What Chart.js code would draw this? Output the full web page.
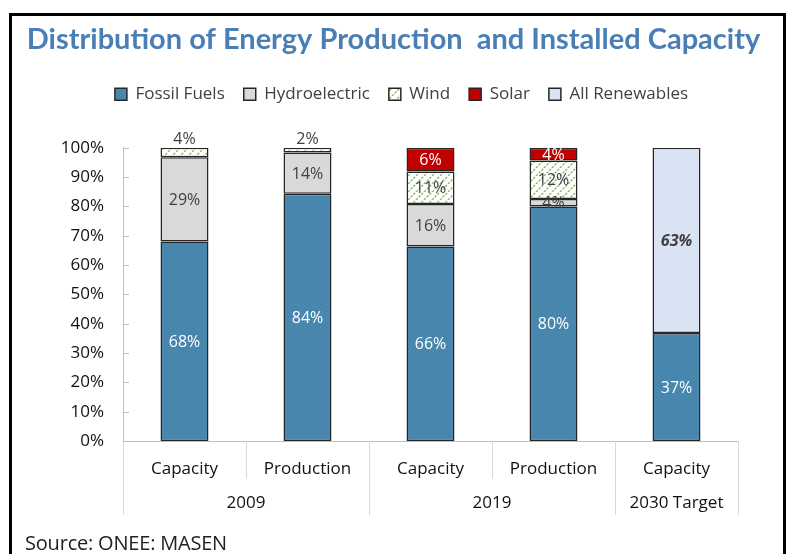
<!DOCTYPE html>
<html><head><meta charset="utf-8">
<script src="https://cdn.jsdelivr.net/npm/chart.js@4/dist/chart.umd.min.js"></script>
<style>
html,body{margin:0;padding:0;background:#fff;width:787px;height:554px;overflow:hidden;}
#frame{position:absolute;left:9px;top:13px;width:771px;height:600px;border:3px solid #000;border-bottom:none;}
#wrap{position:absolute;left:0;top:0;width:787px;height:554px;}
#source{position:absolute;left:25px;top:529px;font-family:'Open Sans';font-size:20px;color:#222;white-space:nowrap;letter-spacing:-0.2px;}
</style></head><body>
<div id="frame"></div>
<div id="wrap"><canvas id="c" width="787" height="554"></canvas></div>
<div id="source">Source: ONEE: MASEN</div>
<script>
const categories = ['Capacity','Production','Capacity','Production','Capacity'];
const groupLabels = ['2009','2019','2030 Target'];
const groupSizes = [2,2,1];
const yTickValues = [0,10,20,30,40,50,60,70,80,90,100];

const fossilFuels   = [68.0, 84.3, 66.3, 80.0, 36.8];
const hydroelectric = [28.8, 14.1, 14.5, 2.5, null];
const wind          = [3.2, 1.6, 11.1, 13.2, null];
const solar         = [null, null, 8.1, 4.3, null];
const allRenewables = [null, null, null, null, 63.2];

const fossilLabels     = ['68%','84%','66%','80%','37%'];
const hydroLabels      = ['29%','14%','16%','4%',null];
const windLabels       = ['4%','2%','11%','12%',null];
const solarLabels      = [null,null,'6%','4%',null];
const renewablesLabels = [null,null,null,null,'63%'];

function hatch(bg, line, size, lw, dash, dir){
  const c=document.createElement('canvas'); c.width=c.height=size;
  const x=c.getContext('2d');
  x.fillStyle=bg; x.fillRect(0,0,size,size);
  x.strokeStyle=line; x.lineWidth=lw;
  if(dash) x.setLineDash(dash);
  for(let o=-size;o<=size;o+=size){
    x.beginPath();
    if(dir==='/'){ x.moveTo(o,size); x.lineTo(o+size,0); }
    else { x.moveTo(o,0); x.lineTo(o+size,size); }
    x.stroke();
  }
  return x.createPattern(c,'repeat');
}
const ctx=document.getElementById('c').getContext('2d');
const fossilFill = hatch('#4A88AF','#4281A8',4,1,null,'\\');
const windFill = hatch('#FFFFFF','#8FBF6E',8,1.5,[2.4,1.4],'/');

const BORDER='#262626';
const FONT='Open Sans';
const groupPlugin={
  id:'groups',
  afterLayout(chart){
    if(chart.legend){ chart.legend.left+=8; chart.legend.right+=8; }
  },
  afterDraw(chart){
    const xs=chart.scales.x, ys=chart.scales.y, c=chart.ctx;
    const n=categories.length;
    const step=xs.getPixelForValue(1)-xs.getPixelForValue(0);
    const bound=k=>xs.getPixelForValue(k)-step/2;
    const edges=[0]; let k=0; groupSizes.forEach(s=>{k+=s;edges.push(k);});
    c.save();
    c.strokeStyle='#D9D9D9'; c.lineWidth=1;
    for(let b=0;b<=n;b++){
      const x=Math.round(bound(b))+0.5;
      const full=edges.includes(b);
      c.beginPath(); c.moveTo(x,xs.top); c.lineTo(x,xs.top+(full?74:38)); c.stroke();
    }
    c.font='17px "'+FONT+'"'; c.fillStyle='#111'; c.textAlign='center'; c.textBaseline='middle';
    groupLabels.forEach((g,i)=>{
      const cx=(bound(edges[i])+bound(edges[i+1]))/2;
      c.fillText(g,cx,xs.top+62);
    });
    c.strokeStyle='#BFBFBF';
    yTickValues.forEach(v=>{
      const y=Math.round(ys.getPixelForValue(v))+0.5;
      c.beginPath(); c.moveTo(ys.right,y); c.lineTo(ys.right+6,y); c.stroke();
    });
    c.restore();
  }
};
const labelPlugin={
  id:'barLabels',
  afterDatasetsDraw(chart){
    const c=chart.ctx;
    c.save();
    chart.data.datasets.forEach((ds,i)=>{
      const meta=chart.getDatasetMeta(i);
      meta.data.forEach((bar,j)=>{
        const txt=ds.valueLabels[j]; if(!txt||ds.data[j]==null) return;
        const top=Math.min(bar.y,bar.base), h=Math.abs(bar.base-bar.y);
        let y=(bar.y+bar.base)/2, color=ds.labelColor;
        const isTop=chart.data.datasets.slice(i+1).every(d=>d.data[j]==null);
        if(h<11&&isTop){ y=top-9; color='#404040'; }
        c.font=ds.labelFont; c.fillStyle=color; c.textAlign='center'; c.textBaseline='middle';
        c.fillText(txt,bar.x,y+1);
      });
    });
    c.restore();
  }
};
const base={borderColor:BORDER,borderWidth:1.5,borderSkipped:false,barPercentage:0.39,categoryPercentage:1};
new Chart(ctx,{
  type:'bar',
  data:{
    labels:categories,
    datasets:[
      {...base,label:'Fossil Fuels',data:fossilFuels,backgroundColor:fossilFill,valueLabels:fossilLabels,labelColor:'#FFFFFF',labelFont:'16px "'+FONT+'"'},
      {...base,label:'Hydroelectric',data:hydroelectric,backgroundColor:'#D9D9D9',valueLabels:hydroLabels,labelColor:'#404040',labelFont:'16px "'+FONT+'"'},
      {...base,label:'Wind',data:wind,backgroundColor:windFill,valueLabels:windLabels,labelColor:'#404040',labelFont:'16px "'+FONT+'"'},
      {...base,label:'Solar',data:solar,backgroundColor:'#C00000',valueLabels:solarLabels,labelColor:'#FFFFFF',labelFont:'16px "'+FONT+'"'},
      {...base,label:'All Renewables',data:allRenewables,backgroundColor:'#DAE3F3',valueLabels:renewablesLabels,labelColor:'#404040',labelFont:'italic bold 16px "'+FONT+'"'}
    ]
  },
  options:{
    responsive:false,animation:false,
    layout:{padding:{left:0,right:0,top:0,bottom:38}},
    plugins:{
      title:{display:true,text:'Distribution of Energy Production  and Installed Capacity',color:'#4A7EB6',
        font:{family:'Lato',size:29,weight:'bold'},padding:{top:22,bottom:10}},
      legend:{display:true,position:'top',
        labels:{boxWidth:12,boxHeight:12,padding:19,color:'#404040',font:{family:FONT,size:17}}},
      tooltip:{enabled:false}
    },
    scales:{
      x:{stacked:true,grid:{display:false},border:{color:'#BFBFBF'},
        ticks:{padding:10,color:'#111',font:{family:FONT,size:17}},
        afterFit:s=>{s.height=75;}},
      xTop:{position:'top',display:true,grid:{display:false},border:{display:false},ticks:{display:false},
        afterFit:s=>{s.height=35;}},
      y:{stacked:true,min:0,max:100,afterBuildTicks:s=>{s.ticks=yTickValues.map(v=>({value:v}));},
        grid:{display:false},border:{color:'#BFBFBF'},
        ticks:{padding:11,color:'#111',font:{family:FONT,size:17},callback:v=>v+'%'},
        afterFit:s=>{s.width=123;}},
      yR:{position:'right',display:true,grid:{display:false},border:{display:false},ticks:{display:false},
        afterFit:s=>{s.width=49;}}
    }
  },
  plugins:[groupPlugin,labelPlugin]
});
</script>
</body></html>
